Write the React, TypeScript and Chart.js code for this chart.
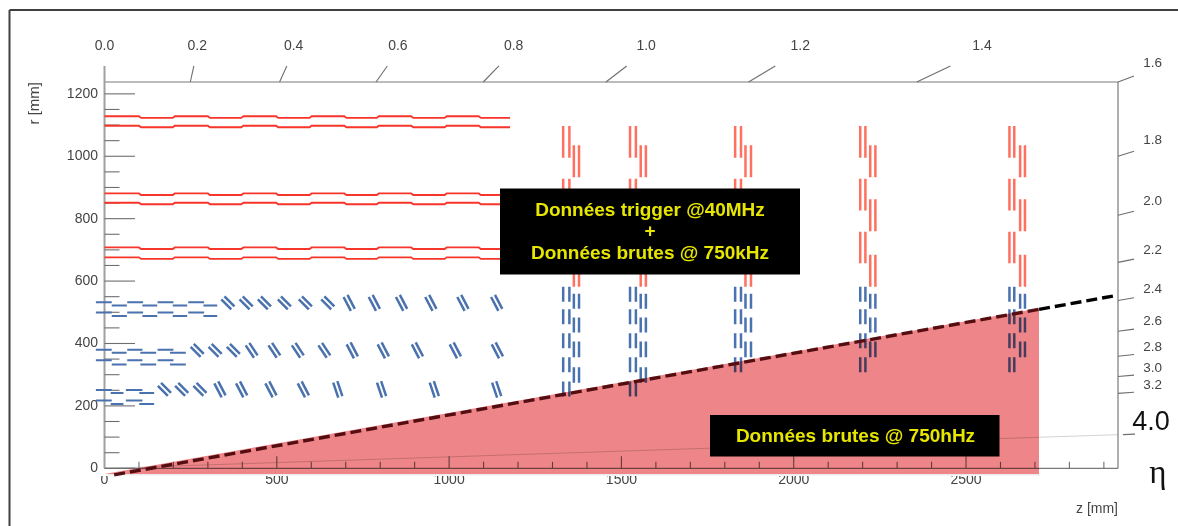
import React, { useEffect, useRef } from "react";
import { Chart, registerables } from "chart.js";

Chart.register(...registerables);

const font = "'Liberation Sans', Arial, sans-serif";

// ---- scale domain
const zMin = 0;
const zMax = 2941;
const rMin = -25;
const rMax = 1238;

// ---- axis ticks
const zTicks = [0, 100, 200, 300, 400, 500, 600, 700, 800, 900, 1000, 1100, 1200, 1300, 1400, 1500, 1600, 1700, 1800, 1900, 2000, 2100, 2200, 2300, 2400, 2500, 2600, 2700, 2800, 2900];
const rTicks = [0, 50, 100, 150, 200, 250, 300, 350, 400, 450, 500, 550, 600, 650, 700, 750, 800, 850, 900, 950, 1000, 1050, 1100, 1150, 1200];

// ---- pseudorapidity axes
const etaTopLabels = ["0.2", "0.4", "0.6", "0.8", "1.0", "1.2", "1.4"];
const etaTopZ = [249, 508, 788, 1099, 1455, 1869, 2357];
const etaRightLabels = ["1.6", "1.8", "2.0", "2.2", "2.4", "2.6", "2.8", "3.0", "3.2"];
const etaRightR = [1238, 1000, 811, 660, 538, 439, 359, 294, 240];
const eta4Label = "4.0";
const eta4R = 107.8;

// ---- red barrel staves: step edges and [high, low] radii
const redEdges = [0, 100, 198, 300, 397, 498, 595, 696, 790, 890, 987, 1086, 1177];
const redStaves = [
  [1128, 1123],
  [1098, 1093],
  [881, 876],
  [851, 846],
  [708, 703],
  [676, 671],
];

// ---- end-cap wheels: z of the two paired columns
const wheelA = [[1331, 1349], [1525, 1542], [1830, 1847], [2193, 2208], [2626, 2640]];
const wheelB = [[1362, 1377], [1556, 1571], [1860, 1876], [2222, 2237], [2657, 2671]];
const redSpansA = [[1097, 995], [928, 826], [758, 657]];
const redSpansB = [[1035, 933], [862, 760], [684, 582]];

// ---- blue end-cap spans
const blueSpansA = [[582, 534], [510, 462], [433, 385], [356, 308], [278, 230]];
const blueSpansB = [[559, 511], [483, 435], [406, 356], [324, 274]];
const blueCountA = [5, 5, 4, 4, 4];
const blueCountB = [4, 4, 3, 3, 3];

// ---- blue flat barrel modules: [zStart, zEnd], [high, low] radius per row
const flatOuterSegs = [[-25, 21], [21, 65], [66, 112], [110, 153], [154, 200], [198, 240], [243, 289], [287, 327]];
const flatOuterRows = [[532, 522], [499, 488]];
const flatMiddleSegs = [[-25, 21], [21, 64], [66, 110], [104, 150], [154, 200], [190, 236]];
const flatMiddleRows = [[380, 370], [346, 333]];
const flatInnerSegs = [[-25, 21], [18, 55], [62, 110], [101, 144]];
const flatInnerRows = [[251, 241], [217, 206]];

// ---- blue tilted modules: centre z, centre r, tilt class
const tiltAz = [358, 411, 464, 522, 583, 648, 710, 783, 862, 947, 1040, 1138];
const tiltAt = [0, 0, 0, 0, 0, 0, 2, 2, 2, 2, 2, 2];
const tiltAr = 530;
const tiltBz = [269, 321, 374, 427, 493, 561, 638, 719, 809, 908, 1018, 1140];
const tiltBt = [0, 0, 0, 1, 1, 1, 1, 2, 2, 2, 2, 2];
const tiltBr = 378;
const tiltCz = [174, 224, 277, 335, 398, 483, 577, 677, 804, 957, 1138];
const tiltCt = [0, 0, 0, 2, 2, 2, 2, 3, 3, 3, 3];
const tiltCr = 253;
// half length (dz, dr) and half pair separation (dz, dr) per tilt class
const tiltShapes = [
  [14.5, 16, 4.6, 5],
  [12, 20, 5.3, 3.9],
  [10.6, 22.4, 5.7, 3.3],
  [7.3, 24, 6, 2.2],
];

// ---- acceptance region
const wedgeTop = [{ x: 0, y: -18 }, { x: 2712, y: 513 }];
const wedgeBase = -18;
const wedgeShadow = [{ x: 8, y: -18 }, { x: 2716, y: -18 }];
const limitInside = [{ x: 28, y: -21 }, { x: 2712, y: 509.5 }];
const limitOutside = [{ x: 2712, y: 509.5 }, { x: 2927, y: 552 }];
const eta4Line = [{ x: 0, y: 0 }, { x: 2941, y: eta4R }];

// ---- texts
const box1Lines = ["Données trigger @40MHz", "+", "Données brutes @ 750kHz"];
const box2Line = "Données brutes @ 750hHz";
const etaSymbol = "η";

const gap = { x: NaN, y: NaN };

function redStavePoints(hi: number, lo: number) {
  const pts: any[] = [];
  for (let i = 0; i < redEdges.length - 1; i++) {
    const r = i % 2 === 0 ? hi : lo;
    pts.push({ x: redEdges[i] + (i ? 6 : 0), y: r }, { x: redEdges[i + 1], y: r });
  }
  return pts;
}

function wheelPoints(columns: number[][], rows: number[][], counts?: number[]) {
  const pts: any[] = [];
  columns.forEach((col, w) => {
    col.forEach((z) => {
      rows.slice(0, counts ? counts[w] : rows.length).forEach(([a, b]) => {
        pts.push({ x: z, y: a }, { x: z, y: b }, gap);
      });
    });
  });
  return pts;
}

function flatPoints(segs: number[][], rows: number[][]) {
  const pts: any[] = [];
  rows.forEach(([hi, lo]) => {
    segs.forEach(([a, b], i) => {
      const r = i % 2 === 0 ? hi : lo;
      pts.push({ x: a, y: r }, { x: b, y: r }, gap);
    });
  });
  return pts;
}

function tiltPoints(zs: number[], tilts: number[], r: number) {
  const pts: any[] = [];
  zs.forEach((z, i) => {
    const [hz, hr, sz, sr] = tiltShapes[tilts[i]];
    [1, -1].forEach((s) => {
      const cz = z + s * sz;
      const cr = r + s * sr;
      pts.push({ x: cz - hz, y: cr + hr }, { x: cz + hz, y: cr - hr }, gap);
    });
  });
  return pts;
}

const lineBase = { pointRadius: 0, tension: 0, fill: false, spanGaps: false, clip: false };

const axesPlugin = {
  id: "detectorAxes",
  beforeDatasetsDraw(chart: any) {
    const { ctx, scales } = chart;
    const X = scales.x;
    const Y = scales.y;
    const x0 = X.getPixelForValue(0);
    const x1 = X.getPixelForValue(zMax);
    const y0 = Y.getPixelForValue(0);
    const y1 = Y.getPixelForValue(rMax);
    const seg = (a: number, b: number, c: number, d: number) => {
      ctx.beginPath();
      ctx.moveTo(a, b);
      ctx.lineTo(c, d);
      ctx.stroke();
    };
    ctx.save();

    // outer frame
    ctx.strokeStyle = "#404040";
    ctx.lineWidth = 2;
    seg(9.5, 526, 9.5, 10);
    seg(9.5, 10, 1178, 10);

    // axis lines
    ctx.strokeStyle = "#7a7a7a";
    ctx.lineWidth = 1.2;
    seg(x0, y1, x1, y1);
    seg(x1, y1, x1, y0);
    seg(x0, y0, x1, y0);
    ctx.strokeStyle = "#a0a0a0";
    ctx.lineWidth = 2;
    seg(x0, y1 - 16, x0, y0);

    // bottom and left ticks, from the scales
    ctx.strokeStyle = "#6e6e6e";
    ctx.lineWidth = 1.1;
    X.ticks.forEach((t: any) => {
      if (t.value === 0) return;
      const px = X.getPixelForValue(t.value);
      seg(px, y0, px, y0 - (t.value % 500 === 0 ? 12 : 6.5));
    });
    Y.ticks.forEach((t: any) => {
      const py = Y.getPixelForValue(t.value);
      seg(x0, py, x0 + (t.value % 200 === 0 ? 30.5 : 15), py);
    });

    // eta ticks
    etaTopZ.forEach((z) => {
      seg(X.getPixelForValue(z), y1, X.getPixelForValue(z * 1.0415), Y.getPixelForValue(rMax * 1.0415));
    });
    etaRightR.forEach((r) => {
      seg(x1, Y.getPixelForValue(r), X.getPixelForValue(zMax * 1.0158), Y.getPixelForValue(r * 1.0158));
    });
    seg(1123, Y.getPixelForValue(eta4R), 1135, Y.getPixelForValue(eta4R * 1.0158));

    // eta labels
    ctx.fillStyle = "#444";
    ctx.textAlign = "center";
    ctx.textBaseline = "middle";
    ctx.font = `14px ${font}`;
    ctx.fillText("0.0", x0, 46);
    etaTopLabels.forEach((l, i) => ctx.fillText(l, X.getPixelForValue(etaTopZ[i] * 1.0803), 46));
    ctx.font = `13.5px ${font}`;
    etaRightLabels.forEach((l, i) => {
      ctx.fillText(l, 1152.7, Y.getPixelForValue(etaRightR[i] * 1.0337) - 5.5);
    });
    ctx.fillStyle = "#111";
    ctx.font = `27px ${font}`;
    ctx.fillText(eta4Label, 1151, 423);
    ctx.font = `33px 'Liberation Serif', serif`;
    ctx.fillText(etaSymbol, 1158, 474);
    ctx.restore();
  },
  // datasets draw from last to first: the wedge (index 0) multiplies over everything else
  afterDatasetDraw(chart: any, args: any) {
    if (args.index === 1) chart.ctx.globalCompositeOperation = "multiply";
    if (args.index === 0) chart.ctx.globalCompositeOperation = "source-over";
  },
  afterDatasetsDraw(chart: any) {
    const { ctx } = chart;
    ctx.save();
    ctx.fillStyle = "#000";
    ctx.fillRect(500, 188.5, 300, 86);
    ctx.fillRect(710, 415, 289.5, 41.5);
    ctx.fillStyle = "#e6e600";
    ctx.textAlign = "center";
    ctx.textBaseline = "middle";
    ctx.font = `bold 19px ${font}`;
    ctx.fillText(box1Lines[0], 650, 211);
    ctx.fillText(box1Lines[1], 650, 232);
    ctx.fillText(box1Lines[2], 650, 254);
    ctx.fillText(box2Line, 855.5, 437);
    ctx.restore();
  },
};

export default function App() {
  const ref = useRef<HTMLCanvasElement | null>(null);

  useEffect(() => {
    const blue = "#4a72ae";
    const datasets: any[] = [
      {
        ...lineBase,
        label: "Acceptance",
        data: wedgeTop,
        borderWidth: 0,
        borderColor: "rgba(0,0,0,0)",
        backgroundColor: "rgb(238,133,136)",
        fill: { value: wedgeBase },
        clip: undefined,
      },
      {
        ...lineBase,
        label: "Shadow",
        data: wedgeShadow,
        borderWidth: 0,
        borderColor: "rgba(0,0,0,0)",
        backgroundColor: "rgba(0,0,0,0.08)",
        fill: { value: -23 },
        clip: undefined,
      },
      { ...lineBase, label: "Limit inside", data: limitInside, borderColor: "#5a1a1f", borderWidth: 3.4, borderDash: [11, 5] },
      { ...lineBase, label: "Limit outside", data: limitOutside, borderColor: "#000", borderWidth: 3.4, borderDash: [11, 5] },
      { ...lineBase, label: "eta 4.0", data: eta4Line, borderColor: "rgba(110,110,110,0.3)", borderWidth: 1 },
      ...redStaves.map(([hi, lo], i) => ({
        ...lineBase,
        label: `Stave ${i + 1}`,
        data: redStavePoints(hi, lo),
        borderColor: "#f8352a",
        borderWidth: 1.9,
      })),
      {
        ...lineBase,
        label: "Red wheels",
        data: [...wheelPoints(wheelA, redSpansA), ...wheelPoints(wheelB, redSpansB)],
        borderColor: "#ff7060",
        borderWidth: 2.5,
      },
      {
        ...lineBase,
        label: "Blue wheels",
        data: [...wheelPoints(wheelA, blueSpansA, blueCountA), ...wheelPoints(wheelB, blueSpansB, blueCountB)],
        borderColor: blue,
        borderWidth: 2.5,
      },
      {
        ...lineBase,
        label: "Blue flat",
        data: [
          ...flatPoints(flatOuterSegs, flatOuterRows),
          ...flatPoints(flatMiddleSegs, flatMiddleRows),
          ...flatPoints(flatInnerSegs, flatInnerRows),
        ],
        borderColor: blue,
        borderWidth: 2,
      },
      {
        ...lineBase,
        label: "Blue tilted",
        data: [
          ...tiltPoints(tiltAz, tiltAt, tiltAr),
          ...tiltPoints(tiltBz, tiltBt, tiltBr),
          ...tiltPoints(tiltCz, tiltCt, tiltCr),
        ],
        borderColor: blue,
        borderWidth: 2.5,
      },
    ];

    const chart = new Chart(ref.current as HTMLCanvasElement, {
      type: "line",
      data: { datasets },
      plugins: [axesPlugin],
      options: {
        animation: false,
        responsive: false,
        layout: { padding: { top: 82, right: 60, left: 0, bottom: 0 } },
        plugins: { legend: { display: false }, tooltip: { enabled: false } },
        scales: {
          x: {
            type: "linear",
            min: zMin,
            max: zMax,
            grid: { display: false, drawTicks: false },
            border: { display: false },
            ticks: {
              autoSkip: false,
              maxRotation: 0,
              padding: -4,
              color: "#444",
              font: { family: font, size: 14 },
              callback: (v: any) => (v % 500 === 0 ? String(v) : ""),
            },
            afterBuildTicks: (s: any) => {
              s.ticks = zTicks.map((value) => ({ value }));
            },
            afterFit: (s: any) => {
              s.height = 49.9;
            },
            title: {
              display: true,
              text: "z [mm]",
              align: "end",
              color: "#444",
              font: { family: font, size: 14 },
              padding: { top: 0, bottom: 8 },
            },
          },
          y: {
            type: "linear",
            min: rMin,
            max: rMax,
            grid: { display: false, drawTicks: false },
            border: { display: false },
            ticks: {
              autoSkip: false,
              padding: 6.5,
              color: "#444",
              font: { family: font, size: 14 },
              callback: (v: any) => (v % 200 === 0 ? String(v) : ""),
            },
            afterBuildTicks: (s: any) => {
              s.ticks = rTicks.map((value) => ({ value }));
            },
            afterFit: (s: any) => {
              s.width = 104.5;
            },
            title: {
              display: true,
              text: "r [mm]",
              align: "end",
              color: "#444",
              font: { family: font, size: 15 },
              padding: { top: 26, bottom: 0 },
            },
          },
        },
      },
    } as any);
    return () => chart.destroy();
  }, []);

  return (
    <div style={{ position: "fixed", left: 0, top: 0, width: 1178, height: 526, background: "#fff" }}>
      <canvas ref={ref} width={1178} height={526} style={{ display: "block", filter: "blur(0.7px)" }} />
    </div>
  );
}
